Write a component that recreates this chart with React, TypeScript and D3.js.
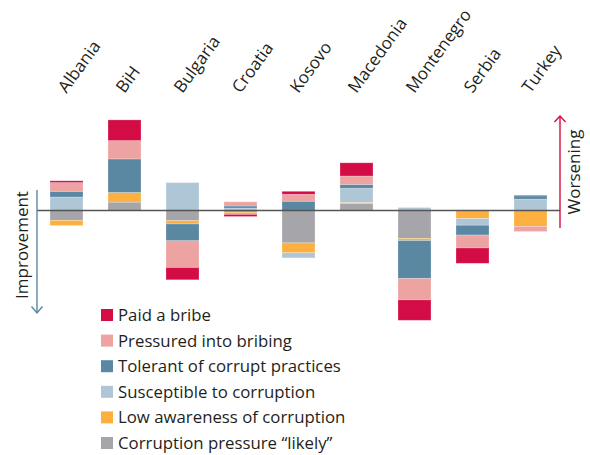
import * as d3 from 'd3';

const countries = ['Albania', 'BiH', 'Bulgaria', 'Croatia', 'Kosovo', 'Macedonia', 'Montenegro', 'Serbia', 'Turkey'];

// change per country, percentage points
const paidBribe = [0.6, 6.9, -4.1, -0.7, 1.0, 4.4, -6.8, -5.1, 0.2];
const pressured = [2.9, 6.1, -8.9, 1.4, 2.3, 2.8, -7.1, -4.3, -1.7];
const tolerant = [1.9, 11.2, -5.6, 0.7, 3.1, 1.3, -12.7, -3.3, 1.1];
const susceptible = [4.5, 0, 9.3, 0.8, -1.7, 4.7, 1.0, -2.2, 3.8];
const lowAwareness = [-1.7, 3.2, -1.1, -0.7, -3.3, 0.3, -0.7, -2.7, -5.3];
const pressureLikely = [-3.3, 2.8, -3.4, -0.6, -10.8, 2.4, -9.3, 0, 0];

const legendLabels = [
    'Paid a bribe',
    'Pressured into bribing',
    'Tolerant of corrupt practices',
    'Susceptible to corruption',
    'Low awareness of corruption',
    'Corruption pressure \u201clikely\u201d',
];

const keys = ['likely', 'low', 'susceptible', 'tolerant', 'pressured', 'paid'];
const colors = {
    paid: '#d40c45',
    pressured: '#eca3a1',
    tolerant: '#5a87a2',
    susceptible: '#afc6d6',
    low: '#fdb040',
    likely: '#a6a6aa',
};
const legendKeys = ['paid', 'pressured', 'tolerant', 'susceptible', 'low', 'likely'];

const font = "'Open Sans', sans-serif";
const textColor = '#231f20';

const App = () => {
    const width = 590, height = 455;

    const table = countries.map((c, i) => ({
        country: c,
        paid: paidBribe[i],
        pressured: pressured[i],
        tolerant: tolerant[i],
        susceptible: susceptible[i],
        low: lowAwareness[i],
        likely: pressureLikely[i],
    }));

    const series = d3.stack<any>().keys(keys).offset(d3.stackOffsetDiverging)(table);

    const x = d3.scaleBand().domain(countries).range([50, 547]).paddingInner(0.431).paddingOuter(0);
    const y = d3.scaleLinear().domain([-37, 30]).range([321.5, 120.5]);
    const zero = y(0);

    return (
        <svg width={width} height={height} style={{ position: 'absolute', left: 0, top: 0, background: '#fff' }}>
            {series.map((s) => (
                <g key={s.key} fill={colors[s.key]}>
                    {s.map((d, i) => (
                        Math.abs(d[1] - d[0]) > 0 &&
                        <rect
                            key={i}
                            x={x(countries[i])}
                            y={y(Math.max(d[0], d[1]))}
                            width={x.bandwidth()}
                            height={Math.abs(y(d[0]) - y(d[1]))}
                            stroke="#fff"
                            strokeOpacity={0.3}
                            strokeWidth={0.8}
                        />
                    ))}
                </g>
            ))}

            <line x1={37} x2={560} y1={zero} y2={zero} stroke="#555" strokeWidth={1.5} />

            {/* worsening arrow */}
            <line x1={560} x2={560} y1={228} y2={116} stroke={colors.paid} strokeWidth={1.4} />
            <path d="M554.5,122 L560,116 L565.5,122" fill="none" stroke={colors.paid} strokeWidth={1.4} />
            <text transform={`translate(580,172) rotate(-90)`} textAnchor="middle" fontFamily={font} fontSize={17} fill={textColor}>Worsening</text>

            {/* improvement arrow */}
            <line x1={37} x2={37} y1={190} y2={313} stroke={colors.tolerant} strokeWidth={1.4} />
            <path d="M31.5,306.5 L37,313 L42.5,306.5" fill="none" stroke={colors.tolerant} strokeWidth={1.4} />
            <text transform={`translate(28,245) rotate(-90)`} textAnchor="middle" fontFamily={font} fontSize={17} fill={textColor}>Improvement</text>

            {countries.map((c) => (
                <text
                    key={c}
                    transform={`translate(${x(c) + x.bandwidth() / 2},94) rotate(-54)`}
                    fontFamily={font}
                    fontSize={17}
                    fill={textColor}
                >{c}</text>
            ))}

            {legendKeys.map((k, i) => (
                <g key={k} transform={`translate(101,${309 + i * 25.6})`}>
                    <rect width={12} height={12} fill={colors[k]} />
                    <text x={17} y={12} fontFamily={font} fontSize={16.8} fill={textColor}>{legendLabels[i]}</text>
                </g>
            ))}
        </svg>
    );
};

export default App;
